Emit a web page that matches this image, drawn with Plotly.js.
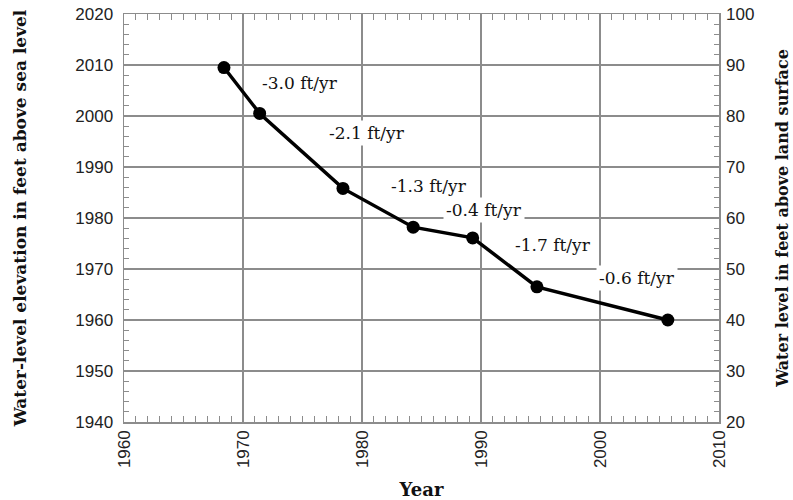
<!DOCTYPE html>
<html>
<head>
<meta charset="utf-8">
<script src="https://cdn.plot.ly/plotly-3.0.1.min.js"></script>
<style>html,body{margin:0;padding:0;background:#fff;}#chart{width:793px;height:500px;}</style>
</head>
<body>
<div id="chart"></div>
<script>
// Data
const years = [1968.4, 1971.4, 1978.4, 1984.3, 1989.3, 1994.7, 2005.7];
const elevation = [2009.5, 2000.5, 1985.8, 1978.2, 1976.1, 1966.5, 1960.0];
const rateLabels = ['-3.0 ft/yr', '-2.1 ft/yr', '-1.3 ft/yr', '-0.4 ft/yr', '-1.7 ft/yr', '-0.6 ft/yr'];
const xTicks = [1960, 1970, 1980, 1990, 2000, 2010];
const yTicks = [1940, 1950, 1960, 1970, 1980, 1990, 2000, 2010, 2020];
const y2Ticks = [20, 30, 40, 50, 60, 70, 80, 90, 100];

// label placement (layout)
const labelPos = [[1974.8, 2006.5], [1980.4, 1996.7], [1985.6, 1986.3], [1990.25, 1981.6], [1996.05, 1974.7], [2003.1, 1968.2]];

const gridCol = '#8c8c8c';
const tickFont = {family: 'Liberation Sans, Arial, sans-serif', size: 17, color: '#222'};
const titleFont = {family: 'DejaVu Serif, serif', size: 17, color: '#111', weight: 'bold'};

const trace = {
  x: years, y: elevation, type: 'scatter', mode: 'lines+markers',
  line: {color: '#000', width: 3.5},
  marker: {color: '#000', size: 13},
  hoverinfo: 'skip', showlegend: false
};
const dummy = {x: [], y: [], xaxis: 'x', yaxis: 'y2', type: 'scatter', showlegend: false};

const layout = {
  width: 793, height: 500,
  margin: {l: 124, r: 74, t: 14, b: 78},
  paper_bgcolor: '#fff', plot_bgcolor: '#fff',
  xaxis: {
    range: [1960, 2010], tickvals: xTicks, ticktext: xTicks.map(String), tickangle: -90,
    showgrid: true, gridcolor: gridCol, gridwidth: 1.5,
    showline: true, linecolor: gridCol, linewidth: 1.5, mirror: 'allticks',
    ticks: 'inside', ticklen: 6, tickcolor: gridCol, tickfont: tickFont,
    minor: {dtick: 1, ticks: 'inside', ticklen: 5, tickcolor: gridCol, tickwidth: 1, showgrid: false},
    zeroline: false, fixedrange: true,
    title: {text: 'Year', font: {family: 'DejaVu Serif, serif', size: 18, color: '#111', weight: 'bold'}, standoff: 16}
  },
  yaxis: {
    range: [1940, 2020], tickvals: yTicks, ticktext: yTicks.map(String),
    showgrid: true, gridcolor: gridCol, gridwidth: 1.5,
    showline: true, linecolor: gridCol, linewidth: 1.5, mirror: 'allticks',
    ticks: 'inside', ticklen: 6, tickcolor: gridCol, tickfont: tickFont, ticklabelstandoff: 6,
    minor: {dtick: 2, ticks: 'inside', ticklen: 5, tickcolor: gridCol, tickwidth: 1, showgrid: false},
    zeroline: false, fixedrange: true,
    title: {text: 'Water-level elevation in feet above sea level', font: titleFont, standoff: 44}
  },
  yaxis2: {
    range: [20, 100], tickvals: y2Ticks, ticktext: y2Ticks.map(String),
    overlaying: 'y', side: 'right', showgrid: false, showline: false, ticks: '',
    tickfont: tickFont, ticklabelstandoff: 6, zeroline: false, fixedrange: true,
    title: {text: 'Water level in feet above land surface', font: Object.assign({}, titleFont, {size: 16}), standoff: 23}
  },
  annotations: rateLabels.map((t, i) => ({
    x: labelPos[i][0], y: labelPos[i][1], xref: 'x', yref: 'y', text: t, showarrow: false,
    bgcolor: '#fff', borderpad: 2,
    font: {family: 'DejaVu Serif, serif', size: 17, color: '#111'}
  }))
};

Plotly.newPlot('chart', [trace, dummy], layout, {staticPlot: true, displayModeBar: false});
</script>
</body>
</html>
